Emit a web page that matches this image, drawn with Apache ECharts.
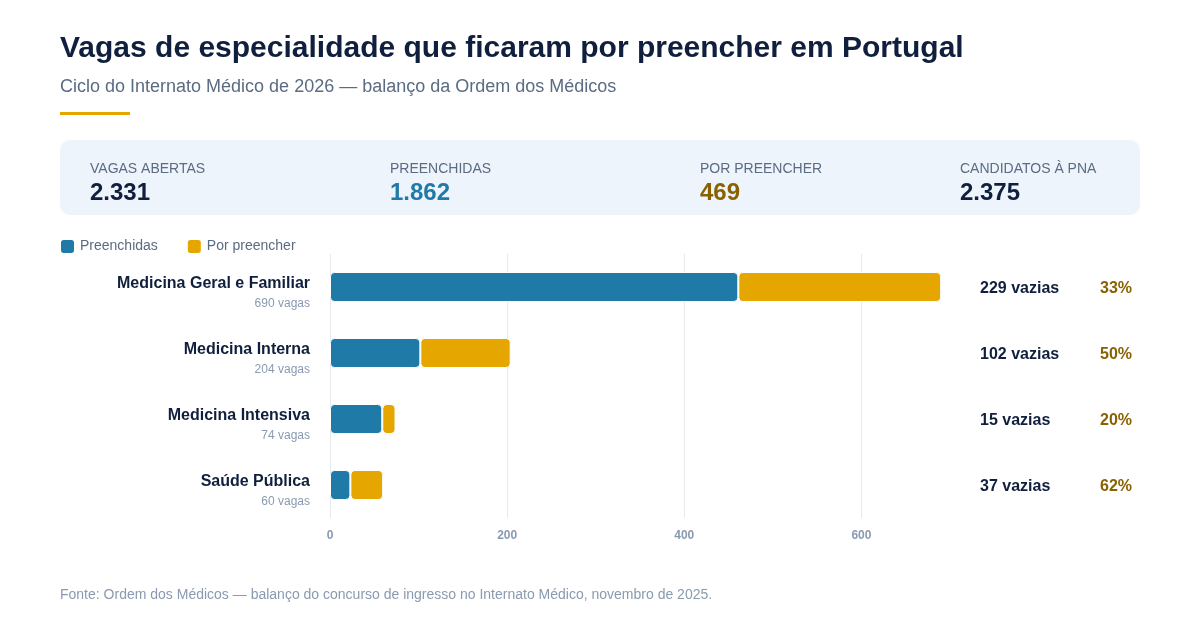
<!DOCTYPE html>
<html><head><meta charset="utf-8">
<script src="https://cdn.jsdelivr.net/npm/echarts@6/dist/echarts.min.js"></script>
<style>html,body{margin:0;padding:0;background:#fff}#c{width:1200px;height:640px}</style>
</head><body><div id="c"></div>
<script>
const especialidades = ['Medicina Geral e Familiar', 'Medicina Interna', 'Medicina Intensiva', 'Saúde Pública'];
const vagas = [690, 204, 74, 60];
const vazias = [229, 102, 15, 37];
const preenchidas = vagas.map((v, i) => v - vazias[i]);
const kpiLabels = ['VAGAS ABERTAS', 'PREENCHIDAS', 'POR PREENCHER', 'CANDIDATOS À PNA'];
const kpiValues = ['2.331', '1.862', '469', '2.375'];
const kpiX = [90, 390, 700, 960];
const kpiColors = ['#0f1f3d', '#1f7aa8', '#8a6100', '#0f1f3d'];

const font = 'Liberation Sans, Arial, sans-serif';
const chart = echarts.init(document.getElementById('c'));

const graphics = [
  { type: 'text', left: 60, top: 34, style: { text: 'Vagas de especialidade que ficaram por preencher em Portugal', font: 'bold 30px ' + font, fill: '#0f1f3d' } },
  { type: 'text', left: 60, top: 78, style: { text: 'Ciclo do Internato Médico de 2026 — balanço da Ordem dos Médicos', font: '18px ' + font, fill: '#5b6b82' } },
  { type: 'rect', shape: { x: 60, y: 112, width: 70, height: 3 }, style: { fill: '#e6a600' } },
  { type: 'rect', shape: { x: 60, y: 140, width: 1080, height: 75, r: 10 }, style: { fill: '#eef4fb' } },
  { type: 'text', left: 60, top: 588, style: { text: 'Fonte: Ordem dos Médicos — balanço do concurso de ingresso no Internato Médico, novembro de 2025.', font: '14px ' + font, fill: '#8a9ab0' } }
];
kpiLabels.forEach((l, i) => {
  graphics.push({ type: 'text', left: kpiX[i], top: 162, style: { text: l, font: '14px ' + font, fill: '#5b6b82' } });
  graphics.push({ type: 'text', left: kpiX[i], top: 181, style: { text: kpiValues[i], font: 'bold 24px ' + font, fill: kpiColors[i] } });
});

const option = {
  animation: false,
  textStyle: { fontFamily: font },
  graphic: graphics,
  legend: {
    left: 54, top: 233, itemWidth: 15, itemHeight: 15, itemGap: 28,
    icon: 'roundRect',
    textStyle: { color: '#5b6b82', fontSize: 14 },
    data: ['Preenchidas', 'Por preencher']
  },
  grid: { left: 330, width: 620, top: 254, height: 264 },
  xAxis: {
    type: 'value', min: 0, max: 700, interval: 200,
    axisLine: { show: false }, axisTick: { show: false },
    axisLabel: { color: '#8a9ab0', fontSize: 12, fontWeight: 'bold', margin: 12, showMaxLabel: false },
    splitLine: { lineStyle: { color: '#e6e9ee' }, showMaxLine: false }
  },
  yAxis: [{
    type: 'category', inverse: true, data: especialidades,
    axisLine: { show: false }, axisTick: { show: false },
    axisLabel: {
      margin: 20, align: 'right', padding: [12, 0, 0, 0],
      formatter: (v, i) => '{n|' + v + '}\n{s|' + vagas[i] + ' vagas}',
      rich: {
        n: { fontSize: 16, fontWeight: 'bold', color: '#0f1f3d', align: 'right', lineHeight: 22 },
        s: { fontSize: 12, color: '#8a9ab0', align: 'right', lineHeight: 18 }
      }
    }
  }, {
    type: 'category', inverse: true, position: 'right', data: especialidades,
    axisLine: { show: false }, axisTick: { show: false },
    axisLabel: {
      margin: 30, padding: [4, 0, 0, 0],
      formatter: (v, i) => '{a|' + vazias[i] + ' vazias}{b|' + Math.round(vazias[i] / vagas[i] * 100) + '%}',
      rich: {
        a: { width: 120, fontSize: 16, fontWeight: 'bold', color: '#0f1f3d' },
        b: { fontSize: 16, fontWeight: 'bold', color: '#8a6100' }
      }
    }
  }],
  series: [
    {
      name: 'Preenchidas', type: 'bar', stack: 't', data: preenchidas, barWidth: 30,
      itemStyle: { color: '#1f7aa8', borderRadius: 4, borderColor: '#fff', borderWidth: 1 }
    },
    {
      name: 'Por preencher', type: 'bar', stack: 't', data: vazias, barWidth: 30,
      itemStyle: { color: '#e6a600', borderRadius: 4, borderColor: '#fff', borderWidth: 1 }
    }
  ]
};
chart.setOption(option);
</script>
</body></html>
